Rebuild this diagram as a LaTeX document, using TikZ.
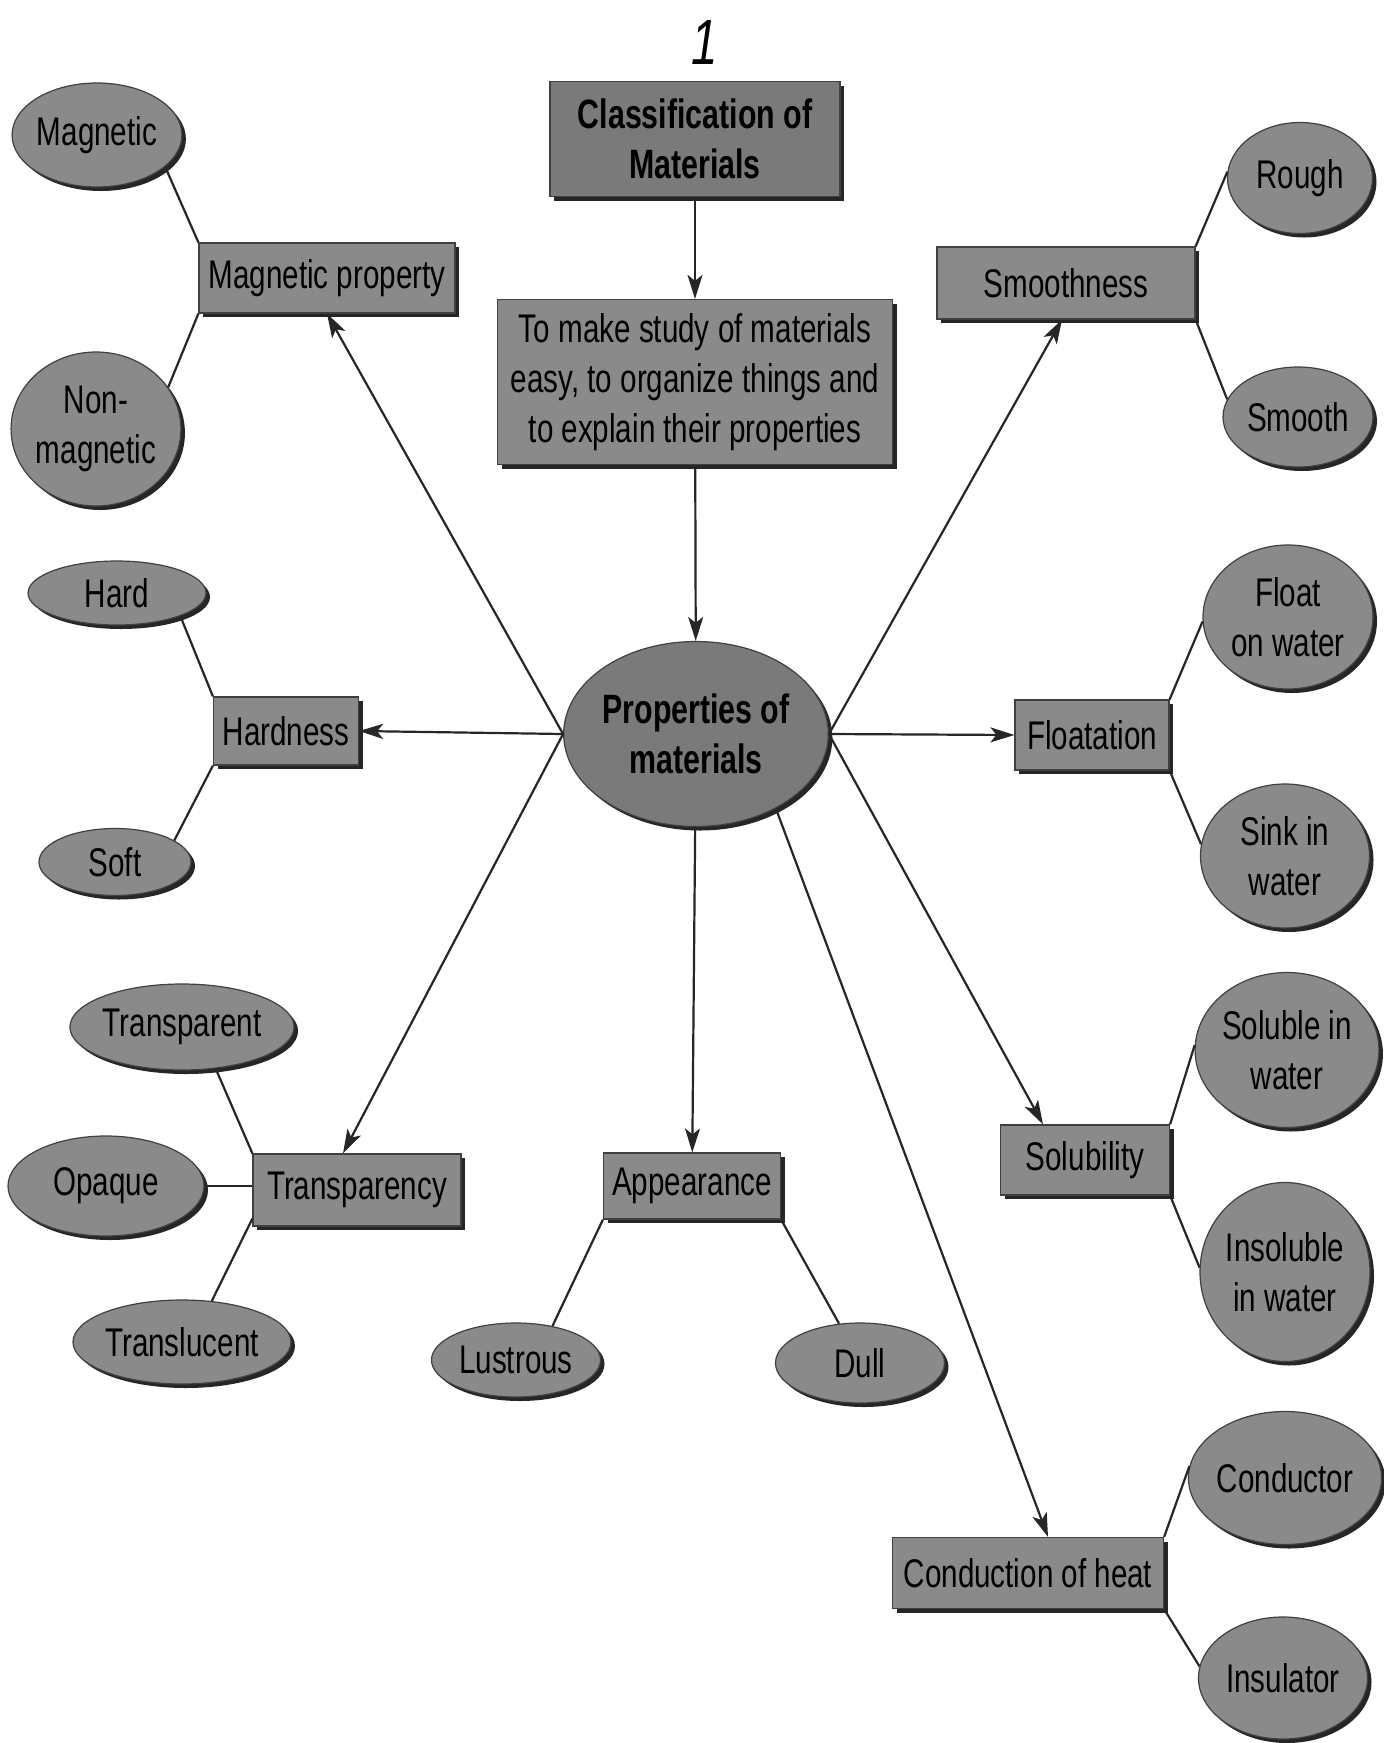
\documentclass[tikz,border=0pt]{standalone}
\usepackage{fontspec}
\setmainfont{Liberation Sans}[FakeStretch=0.74]
\usetikzlibrary{shapes.geometric,shadows,arrows.meta,calc}
\definecolor{nodegray}{HTML}{8A8A8A}
\definecolor{darkgray2}{HTML}{7A7A7A}
\begin{document}
\begin{tikzpicture}[x=1pt,y=-1pt,
  base/.style={fill=nodegray, draw=black!75, line width=1.2pt, inner sep=0pt, align=center,
    font=\fontsize{40}{50}\selectfont,
    drop shadow={shadow xshift=4pt, shadow yshift=-4pt, fill=black!85, opacity=1}},
  rbox/.style={base, rectangle},
  oval/.style={base, ellipse},
  boldtext/.style={font=\fontsize{41}{50}\selectfont\bfseries, fill=darkgray2},
  link/.style={line width=2.2pt, draw=black!85},
  arr/.style={link, -{Stealth[length=24pt,width=15pt,inset=6pt]}}]
\useasboundingbox (0,0) rectangle (1384,1743);
\fill[white] (0,0) rectangle (1384,1743);

\node[font=\fontsize{64}{64}\selectfont\itshape] (pagenum) at (705,42) {1};

\node[rbox, boldtext, minimum width=290, minimum height=115] (title) at (695,139) {Classification of\\Materials};
\node[rbox, minimum width=395, minimum height=165] (purpose) at (695,382) {To make study of materials\\easy, to organize things and\\to explain their properties};
\node[oval, boldtext, minimum width=255, minimum height=185] (prop) at (696,734) {Properties of\\materials};

\node[rbox, minimum width=256, minimum height=70] (mp) at (327,278) {Magnetic property};
\node[oval, minimum width=168, minimum height=104] (mag) at (97,135) {Magnetic};
\node[oval, minimum width=168, minimum height=154] (nonmag) at (96,429) {Non-\\magnetic};

\node[rbox, minimum width=145, minimum height=68] (hardn) at (286,731) {Hardness};
\node[oval, minimum width=178, minimum height=64] (hard) at (117,593) {Hard};
\node[oval, minimum width=152, minimum height=67] (soft) at (115,862) {Soft};

\node[rbox, minimum width=208, minimum height=72] (transp) at (357,1190) {Transparency};
\node[oval, minimum width=220, minimum height=86] (tpt) at (182,1027) {Transparent};
\node[oval, minimum width=196, minimum height=100] (opq) at (106,1186) {Opaque};
\node[oval, minimum width=218, minimum height=84] (tlc) at (182,1342) {Translucent};

\node[rbox, minimum width=177, minimum height=66] (app) at (692,1186) {Appearance};
\node[oval, minimum width=169, minimum height=74] (lus) at (516,1360) {Lustrous};
\node[oval, minimum width=169, minimum height=80] (dull) at (860,1363) {Dull};

\node[rbox, minimum width=258, minimum height=72] (smth) at (1066,283) {Smoothness};
\node[oval, minimum width=145, minimum height=111] (rough) at (1300,178) {Rough};
\node[oval, minimum width=150, minimum height=100] (smooth) at (1298,417) {Smooth};

\node[rbox, minimum width=154, minimum height=70] (flt) at (1092,735) {Floatation};
\node[oval, minimum width=170, minimum height=144] (fow) at (1288,617) {Float\\on water};
\node[oval, minimum width=169, minimum height=144] (siw) at (1285,856) {Sink in\\water};

\node[rbox, minimum width=169, minimum height=70] (sol) at (1085,1160) {Solubility};
\node[oval, minimum width=177, minimum height=155] (sliw) at (1287,1050) {Soluble in\\water};
\node[oval, minimum width=170, minimum height=179] (insol) at (1285,1272) {Insoluble\\in water};

\node[rbox, minimum width=271, minimum height=71] (cond) at (1028,1573) {Conduction of heat};
\node[oval, minimum width=169, minimum height=133] (cdr) at (1285,1478) {Conductor};
\node[oval, minimum width=169, minimum height=122] (ins) at (1283,1678) {Insulator};

% arrows
\draw[arr] (title) -- (purpose);
\draw[arr] (purpose) -- (prop);
\draw[arr] (prop.west) -- (mp.south);
\draw[arr] (prop.west) -- (hardn.east);
\draw[arr] (prop.west) -- ([xshift=-14pt]transp.north);
\draw[arr] (prop) -- (app);
\draw[arr] (prop.-43) -- ([xshift=20pt]cond.north);
\draw[arr] (prop.east) -- ([xshift=-42pt]sol.north);
\draw[arr] (prop.east) -- (flt.west);
\draw[arr] (prop.east) -- ([xshift=-4pt]smth.south);

% links
\draw[link] (mp.north west) -- (mag.-25);
\draw[link] (mp.south west) -- (nonmag.30);
\draw[link] (hardn.north west) -- (hard.-20);
\draw[link] (hardn.south west) -- (soft.20);
\draw[link] (transp.north west) -- (tpt.-51);
\draw[link] (opq.east) -- (opq.east -| transp.west);
\draw[link] ([yshift=8pt]transp.south west) -- (tlc.54);
\draw[link] (app.south west) -- (lus.43);
\draw[link] (app.south east) -- (dull.118);
\draw[link] (smth.north east) -- (rough.175);
\draw[link] (smth.south east) -- (smooth.166);
\draw[link] (flt.north east) -- (fow.183);
\draw[link] (flt.south east) -- (siw.172);
\draw[link] (sol.north east) -- (sliw.177);
\draw[link] (sol.south east) -- (insol.177);
\draw[link] (cond.north east) -- (cdr.173);
\draw[link] (cond.south east) -- (ins.172);
\end{tikzpicture}
\end{document}
